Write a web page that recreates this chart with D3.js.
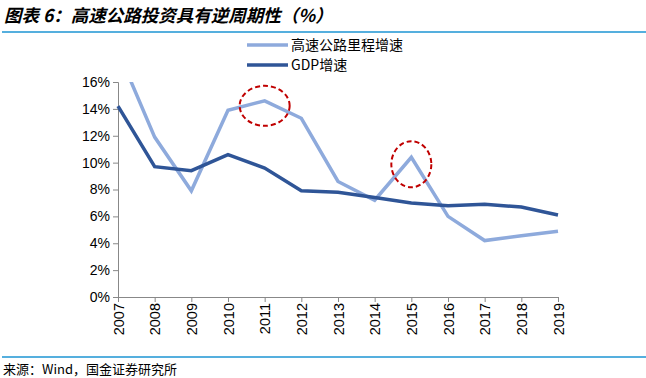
<!DOCTYPE html>
<html><head><meta charset="utf-8">
<script src="https://cdn.jsdelivr.net/npm/d3@7/dist/d3.min.js"></script>
<style>body{margin:0;background:#fff;}svg{display:block;}</style>
</head><body>
<svg id="c" width="646" height="378"></svg>
<script>
const years = ["2007","2008","2009","2010","2011","2012","2013","2014","2015","2016","2017","2018","2019"];
const highwayGrowth = [18.3,11.9,7.9,13.9,14.6,13.3,8.6,7.2,10.4,6.0,4.2,4.55,4.9];
const gdpGrowth = [14.2,9.7,9.4,10.6,9.6,7.9,7.8,7.4,7.0,6.8,6.9,6.7,6.1];
const yTicks = [0,2,4,6,8,10,12,14,16];
const seriesNames = ["高速公路里程增速","GDP增速"];
const highlightYears = ["2011","2015"];

const svg = d3.select("#c");
const font = "'Liberation Sans', Arial, sans-serif";
const cjk = "'Noto Sans CJK SC', sans-serif";

// title
svg.append("text").attr("x",4).attr("y",22).attr("font-family",cjk)
  .attr("font-size",17.5).attr("font-weight","bold").attr("font-style","italic").attr("fill","#000")
  .text("图表 6：高速公路投资具有逆周期性（%）");
svg.append("line").attr("x1",2).attr("x2",646).attr("y1",32).attr("y2",32)
  .attr("stroke","#1d95d3").attr("stroke-width",1.5);
svg.append("line").attr("x1",2).attr("x2",646).attr("y1",357).attr("y2",357)
  .attr("stroke","#1d95d3").attr("stroke-width",1.5);
svg.append("text").attr("x",3).attr("y",374).attr("font-family",cjk)
  .attr("font-size",13).attr("fill","#000").text("来源：Wind，国金证券研究所");

const x = d3.scalePoint().domain(years).range([118,558]);
const y = d3.scaleLinear().domain([0,16]).range([297,82]);

const gy = svg.append("g").attr("transform","translate(118,0)")
  .call(d3.axisLeft(y).tickValues(yTicks).tickFormat(d=>d+"%").tickSize(5).tickPadding(3));
gy.select(".domain").attr("stroke","#888");
gy.selectAll(".tick line").attr("stroke","#888");
gy.selectAll("text").attr("font-family",font).attr("font-size",14).attr("fill","#000");

const gx = svg.append("g").attr("transform","translate(0,297)")
  .call(d3.axisBottom(x).tickSize(5).tickSizeOuter(0));
gx.select(".domain").attr("stroke","#888");
gx.selectAll(".tick line").attr("stroke","#888");
gx.selectAll("text").attr("font-family",font).attr("font-size",14.5).attr("fill","#000")
  .attr("transform","rotate(-90)").attr("text-anchor","end").attr("dy","0.35em")
  .attr("x",-6).attr("y",0);

svg.append("defs").append("clipPath").attr("id","clip").append("rect")
  .attr("x",110).attr("y",y(16)).attr("width",460).attr("height",y(0)-y(16)+2);

const line = d3.line().x((d,i)=>x(years[i])).y(d=>y(d));
const colors = ["#8eaadc","#2f5597"];
svg.append("path").datum(highwayGrowth).attr("d",line).attr("fill","none")
  .attr("stroke",colors[0]).attr("stroke-width",3.5).attr("clip-path","url(#clip)");
svg.append("path").datum(gdpGrowth).attr("d",line).attr("fill","none")
  .attr("stroke",colors[1]).attr("stroke-width",3.5);

// highlight ellipses
const ell = [{rx:25,ry:20,dy:5},{rx:20,ry:23,dy:7}];
highlightYears.forEach((yr,k)=>{
  const i = years.indexOf(yr);
  svg.append("ellipse").attr("cx",x(yr)).attr("cy",y(highwayGrowth[i])+ell[k].dy)
    .attr("rx",ell[k].rx).attr("ry",ell[k].ry).attr("fill","none")
    .attr("stroke","#c00000").attr("stroke-width",2).attr("stroke-dasharray","5,3");
});

// legend
seriesNames.forEach((n,i)=>{
  const ly = 45 + i*20;
  svg.append("line").attr("x1",247).attr("x2",288).attr("y1",ly).attr("y2",ly)
    .attr("stroke",colors[i]).attr("stroke-width",3.5);
  svg.append("text").attr("x",291).attr("y",ly+5).attr("font-family",cjk)
    .attr("font-size",14).attr("fill","#000").text(n);
});
</script>
</body></html>
